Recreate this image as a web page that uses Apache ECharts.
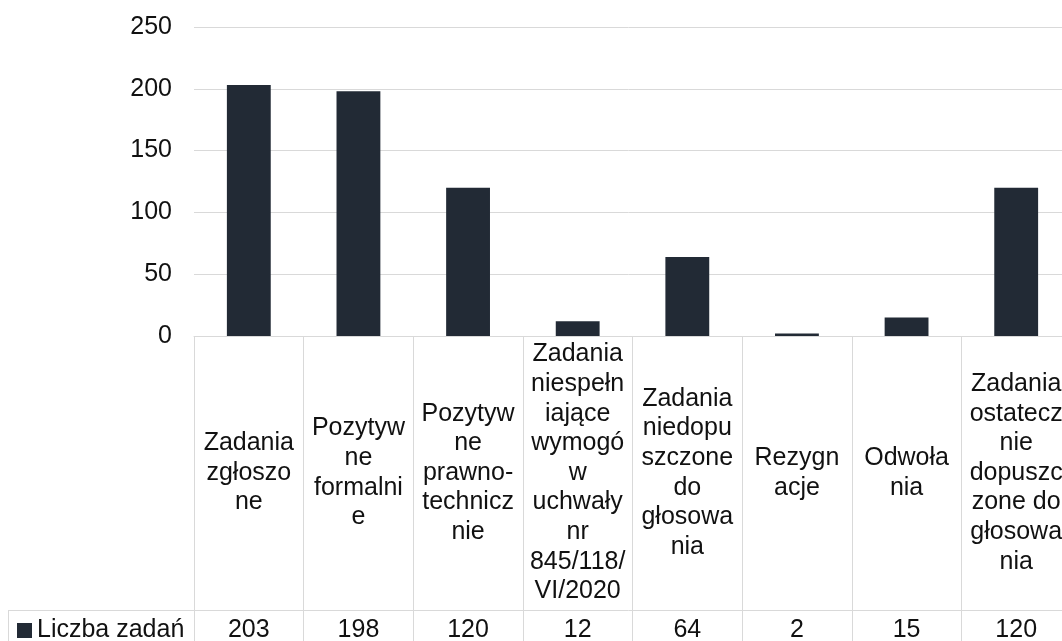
<!DOCTYPE html>
<html>
<head>
<meta charset="utf-8">
<script src="https://cdn.jsdelivr.net/npm/echarts@6/dist/echarts.min.js"></script>
<style>
  html, body { margin: 0; padding: 0; background: #ffffff; }
  #chart { width: 1062px; height: 641px; }
</style>
</head>
<body>
<div id="chart"></div>
<script>
// Category names, wrapped the way the data table cells show them
const categories = [
  'Zadania\nzgłoszo\nne',
  'Pozytyw\nne\nformalni\ne',
  'Pozytyw\nne\nprawno-\ntechnicz\nnie',
  'Zadania\nniespełn\niające\nwymogó\nw\nuchwały\nnr\n845/118/\nVI/2020',
  'Zadania\nniedopu\nszczone\ndo\ngłosowa\nnia',
  'Rezygn\nacje',
  'Odwoła\nnia',
  'Zadania\nostatecz\nnie\ndopuszc\nzone do\ngłosowa\nnia'
];
const seriesName = 'Liczba zadań';
const counts = [203, 198, 120, 12, 64, 2, 15, 120];
const yTicks = [0, 50, 100, 150, 200, 250];

const FONT = 'Liberation Sans, Arial, sans-serif';
const TEXT = '#111111';
const LINE = '#d9d9d9';
const BAR = '#222a35';

const chart = echarts.init(document.getElementById('chart'), null, { renderer: 'canvas' });

chart.setOption({
  animation: false,
  backgroundColor: '#ffffff',
  textStyle: { fontFamily: FONT },
  // the plot (and the last table column) runs past the right edge of the canvas
  grid: { left: 194, top: 27, width: 877, height: 309, containLabel: false, outerBoundsMode: 'none' },
  legend: {
    data: [seriesName],
    left: 17,
    top: 618,
    padding: 0,
    icon: 'rect',
    itemWidth: 15,
    itemHeight: 15,
    textStyle: { fontFamily: FONT, fontSize: 25, color: TEXT, lineHeight: 25 }
  },
  xAxis: [
    {
      type: 'category',
      data: categories,
      position: 'bottom',
      axisLine: { show: true, lineStyle: { color: LINE, width: 1 } },
      axisTick: { show: true, interval: 0, length: 310, lineStyle: { color: LINE, width: 1 } },
      axisLabel: {
        interval: 0,
        margin: 137,
        verticalAlign: 'middle',
        align: 'center',
        fontFamily: FONT,
        fontSize: 25,
        lineHeight: 29.6,
        color: TEXT
      }
    },
    {
      type: 'category',
      data: categories,
      position: 'bottom',
      offset: 274,
      axisLine: { show: true, lineStyle: { color: LINE, width: 1 } },
      axisTick: { show: false },
      axisLabel: {
        interval: 0,
        margin: 20,
        verticalAlign: 'middle',
        fontFamily: FONT,
        fontSize: 25,
        color: TEXT,
        formatter: (value, index) => String(counts[index])
      }
    }
  ],
  yAxis: {
    type: 'value',
    min: yTicks[0],
    max: yTicks[yTicks.length - 1],
    interval: 50,
    axisLine: { show: false },
    axisTick: { show: false },
    splitLine: { show: true, lineStyle: { color: LINE, width: 1 } },
    axisLabel: { margin: 22, fontFamily: FONT, fontSize: 25, color: TEXT }
  },
  series: [
    {
      name: seriesName,
      type: 'bar',
      xAxisIndex: 0,
      data: counts,
      barWidth: '40%',
      itemStyle: { color: BAR }
    }
  ],
  graphic: [
    // left cell of the data table (series name row)
    { type: 'line', shape: { x1: 8, y1: 610.5, x2: 194, y2: 610.5 }, style: { stroke: LINE, lineWidth: 1 } },
    { type: 'line', shape: { x1: 8.5, y1: 610, x2: 8.5, y2: 641 }, style: { stroke: LINE, lineWidth: 1 } }
  ]
});
</script>
</body>
</html>
